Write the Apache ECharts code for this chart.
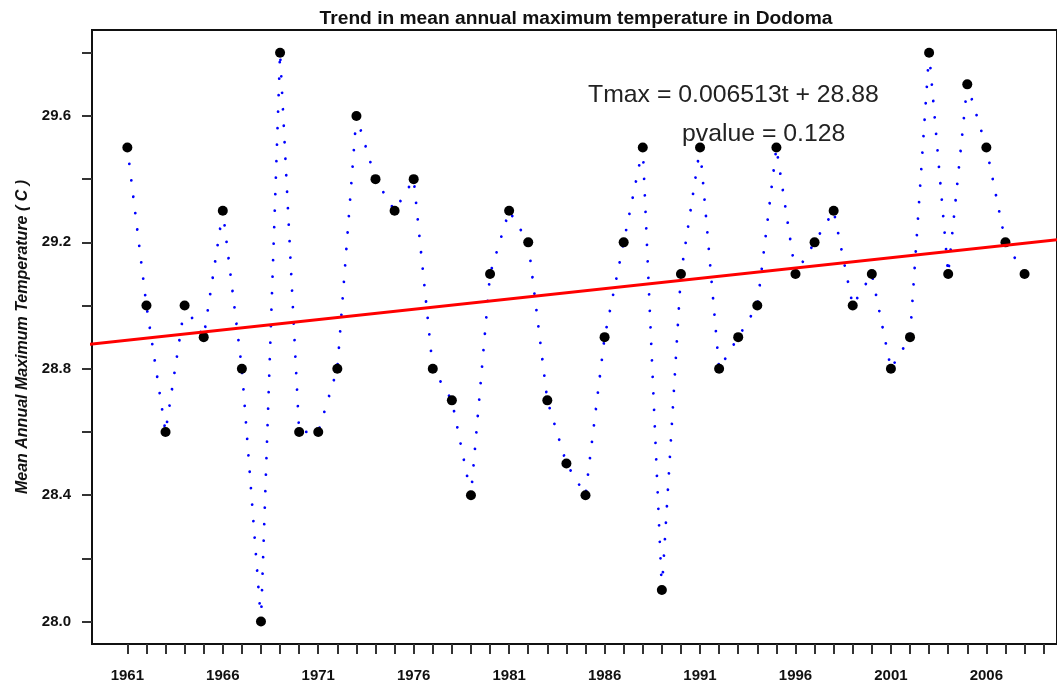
<!DOCTYPE html>
<html>
<head>
<meta charset="utf-8">
<script src="https://cdn.jsdelivr.net/npm/echarts@6/dist/echarts.min.js"></script>
<style>
html,body{margin:0;padding:0;background:#fff;}
#chart{width:1057px;height:684px;}
</style>
</head>
<body>
<div id="chart"></div>
<script>
// ---- data ----
var years = [1961,1962,1963,1964,1965,1966,1967,1968,1969,1970,
             1971,1972,1973,1974,1975,1976,1977,1978,1979,1980,
             1981,1982,1983,1984,1985,1986,1987,1988,1989,1990,
             1991,1992,1993,1994,1995,1996,1997,1998,1999,2000,
             2001,2002,2003,2004,2005,2006,2007,2008];
var tmax = [29.5,29.0,28.6,29.0,28.9,29.3,28.8,28.0,29.8,28.6,
            28.6,28.8,29.6,29.4,29.3,29.4,28.8,28.7,28.4,29.1,
            29.3,29.2,28.7,28.5,28.4,28.9,29.2,29.5,28.1,29.1,
            29.5,28.8,28.9,29.0,29.5,29.1,29.2,29.3,29.0,29.1,
            28.8,28.9,29.8,29.1,29.7,29.5,29.2,29.1];
var trendYears = [1959, 2010];
var trendValues = [28.877, 29.210];
var xTickYears = [];
for (var y = 1961; y <= 2009; y++) xTickYears.push(y);
var xLabelYears = [1961,1966,1971,1976,1981,1986,1991,1996,2001,2006];
var yTickValues = [28.0,28.2,28.4,28.6,28.8,29.0,29.2,29.4,29.6,29.8];
var yLabelValues = [28.0,28.4,28.8,29.2,29.6];
var titleText = 'Trend in mean annual maximum temperature in Dodoma';
var yAxisName = 'Mean Annual Maximum Temperature ( C )';
var eqText = 'Tmax = 0.006513t + 28.88';
var pText = 'pvalue = 0.128';

var pts = years.map(function(y, i){ return [y, tmax[i]]; });
var trend = trendYears.map(function(y, i){ return [y, trendValues[i]]; });

var chart = echarts.init(document.getElementById('chart'), null, {renderer:'canvas'});
var FONT = 'Liberation Sans, Arial, Helvetica, sans-serif';
chart.setOption({
  animation: false,
  backgroundColor: '#fff',
  grid: {
    left: 92, right: -4, top: 30, bottom: 40,
    show: true, borderColor: '#111', borderWidth: 2, backgroundColor: 'transparent'
  },
  xAxis: {
    type: 'value',
    min: 1959.148, max: 2009.70,
    axisLine: {show: true, onZero: false, lineStyle: {color: '#111', width: 2}},
    axisTick: {show: true, length: 10, customValues: xTickYears, lineStyle: {color: '#333', width: 2}},
    axisLabel: {
      customValues: xLabelYears, margin: 24,
      fontFamily: FONT, fontSize: 15, fontWeight: 'bold', color: '#111',
      formatter: function(v){ return String(Math.round(v)); }
    },
    splitLine: {show: false}
  },
  yAxis: {
    type: 'value',
    min: 27.929, max: 29.872,
    name: yAxisName,
    nameLocation: 'middle',
    nameGap: 60,
    nameTextStyle: {fontFamily: FONT, fontSize: 16, fontWeight: 'bold', fontStyle: 'italic', color: '#111'},
    axisLine: {show: true, onZero: false, lineStyle: {color: '#111', width: 2}},
    axisTick: {show: true, length: 10, customValues: yTickValues, lineStyle: {color: '#333', width: 2}},
    axisLabel: {
      customValues: yLabelValues, margin: 21,
      fontFamily: FONT, fontSize: 15, fontWeight: 'bold', color: '#111',
      formatter: function(v){ return v.toFixed(1); }
    },
    splitLine: {show: false}
  },
  graphic: [
    {type: 'text', x: 576, y: 19, style: {text: titleText, fontFamily: FONT, fontSize: 19.2, fontWeight: 'bold', fill: '#111', align: 'center', verticalAlign: 'middle'}},
    {type: 'text', x: 588, y: 95, style: {text: eqText, fontFamily: FONT, fontSize: 24.8, fill: '#222', align: 'left', verticalAlign: 'middle'}},
    {type: 'text', x: 682, y: 134, style: {text: pText, fontFamily: FONT, fontSize: 24.8, fill: '#222', align: 'left', verticalAlign: 'middle'}}
  ],
  series: [
    {
      type: 'line', data: pts, symbol: 'none', z: 2,
      lineStyle: {color: '#0000ff', width: 2.8, type: [0.01, 16.5], cap: 'round'}
    },
    {
      type: 'scatter', data: pts, symbol: 'circle', symbolSize: 10, z: 3,
      itemStyle: {color: '#000', opacity: 1}
    },
    {
      type: 'line', data: trend, symbol: 'none', z: 4, clip: true,
      lineStyle: {color: '#ff0000', width: 3}
    }
  ]
});
</script>
</body>
</html>
